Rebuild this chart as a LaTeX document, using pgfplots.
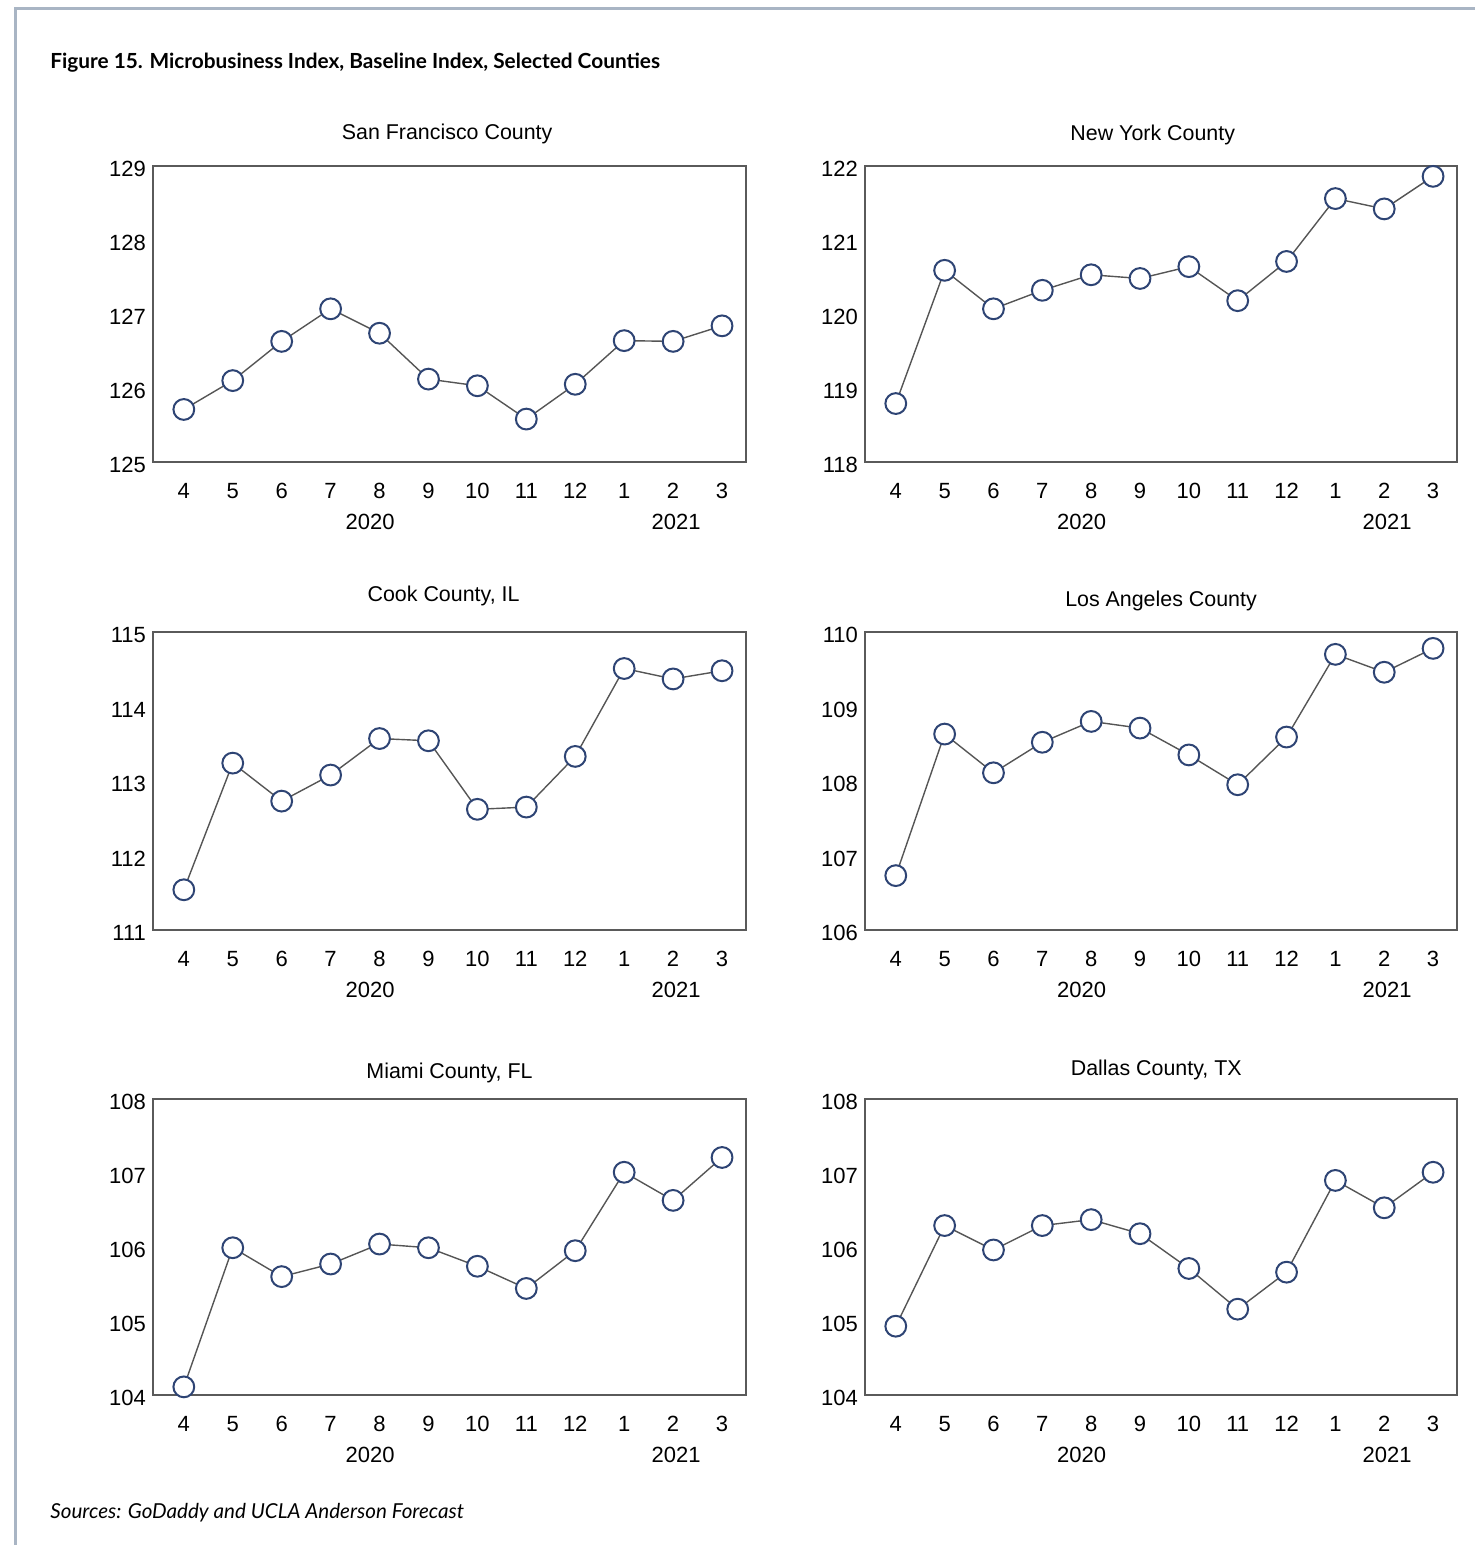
\documentclass[border=0pt]{standalone}
\usepackage{fontspec}
\setmainfont{Liberation Sans}
\newfontfamily\titlefont{Lato}
\usepackage{pgfplots}
\pgfplotsset{compat=1.18}
\definecolor{framecol}{HTML}{A9B5C4}
\definecolor{markcol}{HTML}{2E4474}
\definecolor{linecol}{HTML}{555555}
\definecolor{axiscol}{HTML}{5A5A5A}
\pgfplotsset{panel/.style={
  scale only axis, width=296.5pt, height=148pt, anchor=north west,
  xmin=-0.63, xmax=11.49,
  xtick={0,...,11}, xticklabels={4,5,6,7,8,9,10,11,12,1,2,3},
  ytick distance=1,
  major tick length=0pt,
  axis line style={draw=axiscol, line width=0.8pt},
  tick label style={font=\fontsize{11}{13}\selectfont},
  xticklabel style={yshift=-7pt},
  yticklabel style={yshift=-1.5pt},
  /pgf/number format/assume math mode=true,
  /pgf/number format/1000 sep={},
  clip=false,
},
ser/.style={color=linecol, line width=0.7pt, mark=*, mark size=5.2pt,
  mark options={fill=white, draw=markcol, line width=1pt}},
}
\newcommand{\years}{%
  \node[font=\fontsize{11}{13}\selectfont] at (rel axis cs:0.366,0) [yshift=-30pt] {2020};
  \node[font=\fontsize{11}{13}\selectfont] at (rel axis cs:0.882,0) [yshift=-30pt] {2021};}
\begin{document}
\begin{tikzpicture}
\path[use as bounding box] (0,0) rectangle (737.5pt,-772.5pt);
\draw[framecol, line width=1.5pt] (7.5pt,-772.5pt) -- (7.5pt,-4.5pt) -- (737.5pt,-4.5pt);
\node[anchor=west, font=\titlefont\bfseries\fontsize{10.4}{12}\selectfont, inner sep=0pt] at (25pt,-31.5pt) {Figure 15. Microbusiness Index, Baseline Index, Selected Counties};
\node[anchor=west, font=\titlefont\itshape\fontsize{10.3}{12}\selectfont, inner sep=0pt] at (25pt,-756.5pt) {Sources: GoDaddy and UCLA Anderson Forecast};

% San Francisco
\begin{axis}[panel, at={(76.5pt,-83pt)}, ymin=125, ymax=129]
\addplot[ser] coordinates {(0,125.71)(1,126.10)(2,126.63)(3,127.07)(4,126.74)(5,126.12)(6,126.03)(7,125.58)(8,126.05)(9,126.64)(10,126.63)(11,126.84)};
\years
\node[font=\fontsize{10.7}{13}\selectfont] at (rel axis cs:0.496,1) [yshift=16pt] {San Francisco County};
\end{axis}

% New York
\begin{axis}[panel, at={(432.5pt,-83pt)}, width=296pt, ymin=118, ymax=122]
\addplot[ser] coordinates {(0,118.79)(1,120.59)(2,120.07)(3,120.32)(4,120.53)(5,120.48)(6,120.64)(7,120.18)(8,120.71)(9,121.56)(10,121.42)(11,121.86)};
\years
\node[font=\fontsize{10.7}{13}\selectfont] at (rel axis cs:0.486,1) [yshift=15.5pt] {New York County};
\end{axis}

% Cook
\begin{axis}[panel, at={(76.5pt,-316pt)}, height=149pt, ymin=111, ymax=115]
\addplot[ser] coordinates {(0,111.54)(1,113.24)(2,112.73)(3,113.08)(4,113.57)(5,113.54)(6,112.62)(7,112.65)(8,113.33)(9,114.51)(10,114.37)(11,114.48)};
\years
\node[font=\fontsize{10.7}{13}\selectfont] at (rel axis cs:0.49,1) [yshift=18pt] {Cook County, IL};
\end{axis}

% Los Angeles
\begin{axis}[panel, at={(432.5pt,-316pt)}, width=296pt, height=149pt, ymin=106, ymax=110]
\addplot[ser] coordinates {(0,106.73)(1,108.63)(2,108.11)(3,108.52)(4,108.80)(5,108.71)(6,108.35)(7,107.95)(8,108.59)(9,109.70)(10,109.46)(11,109.78)};
\years
\node[font=\fontsize{10.7}{13}\selectfont] at (rel axis cs:0.5,1) [yshift=15.5pt] {Los Angeles County};
\end{axis}

% Miami
\begin{axis}[panel, at={(76.5pt,-549.5pt)}, ymin=104, ymax=108]
\addplot[ser] coordinates {(0,104.11)(1,105.99)(2,105.60)(3,105.77)(4,106.04)(5,105.99)(6,105.74)(7,105.44)(8,105.95)(9,107.01)(10,106.63)(11,107.21)};
\years
\node[font=\fontsize{10.7}{13}\selectfont] at (rel axis cs:0.5,1) [yshift=13pt] {Miami County, FL};
\end{axis}

% Dallas
\begin{axis}[panel, at={(432.5pt,-549.5pt)}, width=296pt, ymin=104, ymax=108]
\addplot[ser] coordinates {(0,104.93)(1,106.29)(2,105.96)(3,106.29)(4,106.37)(5,106.18)(6,105.71)(7,105.16)(8,105.66)(9,106.90)(10,106.53)(11,107.01)};
\years
\node[font=\fontsize{10.7}{13}\selectfont] at (rel axis cs:0.492,1) [yshift=14.5pt] {Dallas County, TX};
\end{axis}
\end{tikzpicture}
\end{document}
